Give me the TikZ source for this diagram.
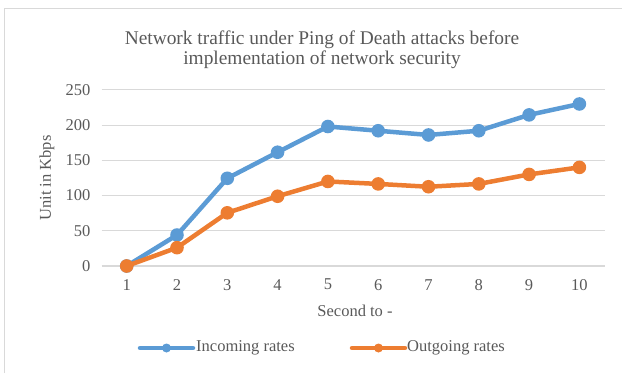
\documentclass[tikz,border=0pt]{standalone}
\usepackage{fontspec}
\setmainfont{Liberation Serif}
\definecolor{gridgray}{HTML}{D9D9D9}
\definecolor{txtgray}{HTML}{595959}
\definecolor{inblue}{HTML}{5B9BD5}
\definecolor{outorange}{HTML}{ED7D31}
\tikzset{
  gridline/.style={draw=gridgray, line width=1.2pt},
  ticklabel/.style={text=txtgray, font=\fontsize{16.5}{18}\selectfont, inner sep=0pt},
  axistitle/.style={text=txtgray, font=\fontsize{16.5}{18}\selectfont, inner sep=0pt},
  series/.style={line width=4.5pt, line cap=round, line join=round},
  marker/.style={circle, fill=#1, inner sep=0pt, minimum size=13pt},
}
\begin{document}
\begin{tikzpicture}[x=1pt, y=-1pt]
  \useasboundingbox (0,0) rectangle (622,373);
  % chart frame (left and top edges)
  \draw[gridgray, line width=1pt] (4,373) -- (4,8) -- (622,8);

  % title
  \node[text=txtgray, font=\fontsize{19.4}{20.5}\selectfont, align=center, inner sep=0pt]
    (title) at (322,50) {Network traffic under Ping of Death attacks before\\implementation of network security};

  \begin{scope}[xshift=76.4pt, yshift=-266pt, x=50.3pt, y=0.7045pt]
    % horizontal gridlines and value labels
    \foreach \v in {0,50,...,250} {
      \coordinate (gl\v) at (0.5,\v);
      \coordinate (gr\v) at (10.5,\v);
      \draw[gridline] (gl\v) -- (gr\v);
      \node[ticklabel, anchor=east] (yl\v) at (0.28,\v) {\v};
    }
    % category labels
    \foreach \i in {1,...,10} {
      \node[ticklabel] (xl\i) at (\i,-26.5) {\i};
    }

    % data points (centres only; markers are filled below)
    \foreach \i/\v in {1/0,2/44,3/124.5,4/161.5,5/198,6/192,7/186,8/192,9/214.5,10/230} {
      \coordinate (in\i) at (\i,\v);
    }
    \foreach \i/\v in {1/0,2/26,3/75.5,4/99,5/120,6/116.5,7/112.5,8/116.5,9/130,10/140} {
      \coordinate (out\i) at (\i,\v);
    }
  \end{scope}

  % incoming series: line, then markers
  \draw[series, inblue] (in1)
    \foreach \i in {2,...,10} { -- (in\i) };
  \foreach \i in {1,...,10} {
    \fill[inblue] (in\i) circle (6.8pt);
  }
  % outgoing series: line, then markers
  \draw[series, outorange] (out1)
    \foreach \i in {2,...,10} { -- (out\i) };
  \foreach \i in {1,...,10} {
    \fill[outorange] (out\i) circle (6.8pt);
  }

  % axis titles
  \node[axistitle, rotate=90] (ytitle) at (47,178) {Unit in Kbps};
  \node[axistitle] (xtitle) at (355,311) {Second to -};

  % legend
  \coordinate (lga) at (140,348);
  \coordinate (lgb) at (193,348);
  \draw[series, inblue] (lga) -- (lgb);
  \node[marker=inblue, minimum size=9pt] (lgm1) at (166.5,348) {};
  \node[axistitle, anchor=west] (lgt1) at (196,348) {Incoming rates};

  \coordinate (lgc) at (352,348);
  \coordinate (lgd) at (405,348);
  \draw[series, outorange] (lgc) -- (lgd);
  \node[marker=outorange, minimum size=9pt] (lgm2) at (378.5,348) {};
  \node[axistitle, anchor=west] (lgt2) at (407,348) {Outgoing rates};
\end{tikzpicture}
\end{document}
